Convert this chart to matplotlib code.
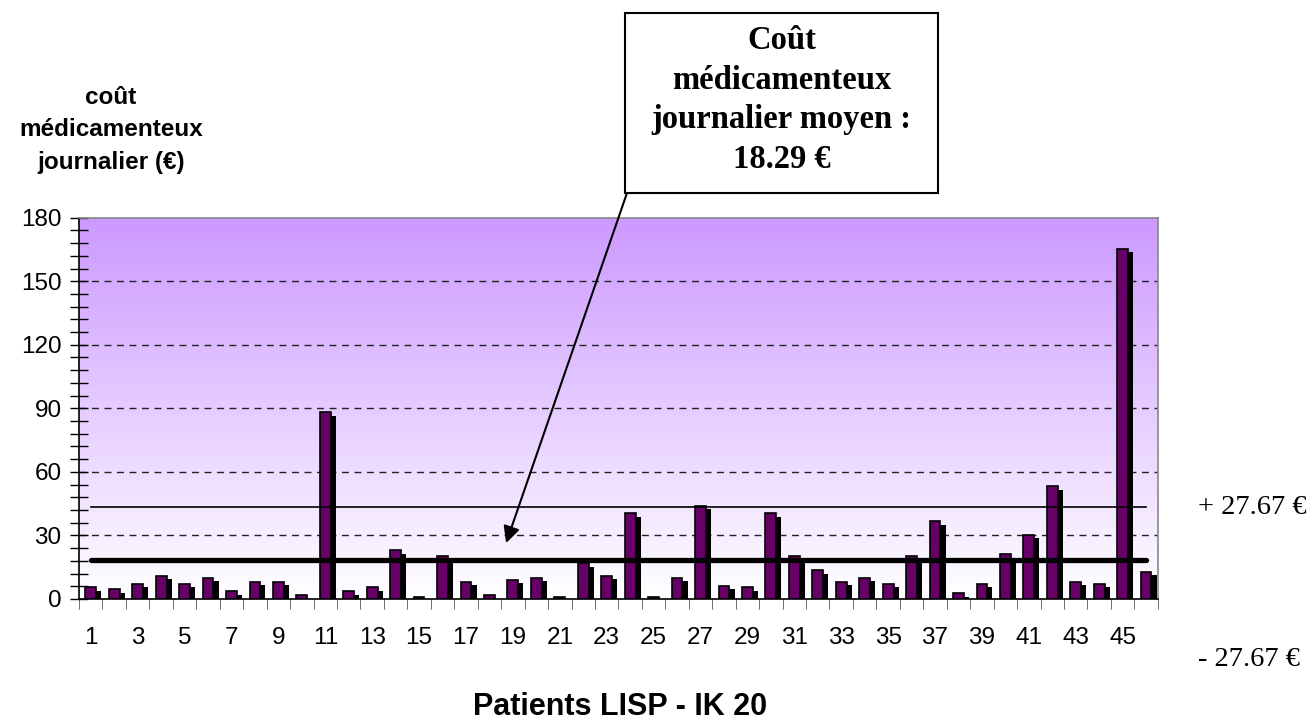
import numpy as np
import matplotlib
matplotlib.use("Agg")
import matplotlib.pyplot as plt
from matplotlib.patches import Rectangle
from matplotlib.colors import LinearSegmentedColormap

# daily drug cost per patient (EUR)
patients = list(range(1, 47))
cost = [5.5, 4.6, 7.2, 11.0, 7.2, 10.1, 3.6, 8.2, 8.2, 1.7,
        88.1, 3.6, 5.5, 23.0, 1.1, 20.1, 8.2, 1.7, 9.1, 10.1,
        1.1, 16.8, 11.0, 40.4, 1.1, 10.1, 44.1, 6.3, 5.5, 40.4,
        20.1, 13.7, 8.2, 10.1, 7.2, 20.1, 36.7, 2.7, 7.2, 21.1,
        30.4, 53.4, 8.2, 7.2, 165.4, 12.9]
mean_cost = 18.29
upper_line = 43.6
tick_labels = [str(p) if p % 2 == 1 else "" for p in patients]

sans = "Liberation Sans"
serif = "Liberation Serif"

fig = plt.figure(figsize=(13.13, 7.22), dpi=100)
ax = fig.add_axes([0.0602, 0.1704, 0.8216, 0.5281])

# gradient background: purple at top, white at bottom
cmap = LinearSegmentedColormap.from_list("bg", ["#ffffff", "#cc99ff"])
grad = np.linspace(0, 1, 256).reshape(-1, 1)
ax.imshow(grad, cmap=cmap, aspect="auto", origin="lower",
          extent=[0.5, 46.5, 0, 180], zorder=0)

x = np.array(patients)
y = np.array(cost)
w = 0.46
# shadow bars (offset right and down)
ax.bar(x + 0.22, np.maximum(y - 1.75, 0), width=w, color="black", zorder=2)
ax.bar(x, y, width=w, color="#660066", edgecolor="black", linewidth=1.2, zorder=3)

for v in range(30, 180, 30):
    ax.axhline(v, color="#222222", lw=1, linestyle=(0, (5, 4)), zorder=1)

ax.plot([1, 46], [upper_line, upper_line], color="black", lw=1.2, zorder=4)
ax.plot([1, 46], [mean_cost, mean_cost], color="black", lw=3.8,
        solid_capstyle="round", zorder=4)

ax.set_xlim(0.5, 46.5)
ax.set_ylim(0, 180)
ax.set_yticks(range(0, 181, 30))
ax.set_yticks(range(0, 181, 6), minor=True)
ax.set_xticks(patients)
ax.set_xticklabels(tick_labels, fontfamily=sans, fontsize=17.5)
ax.set_xticks(np.arange(0.5, 47, 1), minor=True)
ax.tick_params(axis="x", which="major", length=0, pad=20)
ax.tick_params(axis="x", which="minor", length=7, color="#555555", direction="out")
ax.tick_params(axis="y", which="both", direction="inout", length=13, width=1, pad=6)
for lab in ax.get_yticklabels():
    lab.set_fontfamily(sans)
    lab.set_fontsize(17.5)

ax.spines["top"].set_color("#888888")
ax.spines["right"].set_color("#888888")
ax.spines["left"].set_color("black")
ax.spines["bottom"].set_color("black")
for s in ax.spines.values():
    s.set_linewidth(1.2)

# axis titles
fig.text(111 / 1313, 1 - 130 / 722, "coût\nmédicamenteux\njournalier (€)",
         ha="center", va="center", fontfamily=sans, fontsize=17.5,
         fontweight="bold", linespacing=1.5)
fig.text(620 / 1313, 1 - 707 / 722, "Patients LISP - IK 20", ha="center",
         va="center", fontfamily=sans, fontsize=22, fontweight="bold")

# side labels
fig.text(1198 / 1313, 1 - 507 / 722, "+ 27.67 €", ha="left", va="center",
         fontfamily=serif, fontsize=20.5)
fig.text(1198 / 1313, 1 - 660 / 722, "- 27.67 €", ha="left", va="center",
         fontfamily=serif, fontsize=20.5)

# annotation box
box = Rectangle((625 / 1313, 1 - 193 / 722), 313 / 1313, 180 / 722,
                transform=fig.transFigure, facecolor="white",
                edgecolor="black", linewidth=1.5, zorder=5)
fig.patches.append(box)
fig.text(781.5 / 1313, 1 - 100 / 722,
         "Coût\nmédicamenteux\njournalier moyen :\n18.29 €",
         ha="center", va="center", fontfamily=serif, fontsize=23.5,
         fontweight="bold", linespacing=1.35, zorder=6)

ax.annotate("", xy=(18.71, 26.4), xycoords="data",
            xytext=(627 / 1313, 1 - 193 / 722), textcoords="figure fraction",
            arrowprops=dict(arrowstyle="-|>", color="black", lw=1.5,
                            mutation_scale=25, shrinkA=0, shrinkB=0),
            annotation_clip=False, zorder=6)

fig.savefig("out.png", dpi=100)
